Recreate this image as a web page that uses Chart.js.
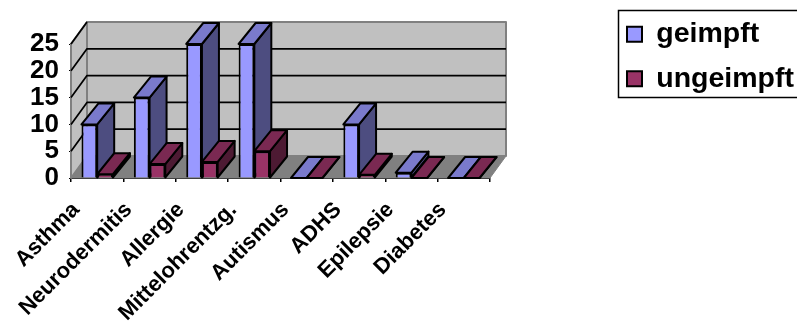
<!DOCTYPE html>
<html>
<head>
<meta charset="utf-8">
<title>Impfstatus</title>
<style>
  html, body { margin: 0; padding: 0; background: #fff; overflow: hidden; }
  canvas { display: block; }
</style>
<script src="https://cdn.jsdelivr.net/npm/chart.js@4/dist/chart.umd.min.js"></script>
</head>
<body>
<canvas id="chart" width="797" height="322"></canvas>
<script>
const categories = ['Asthma', 'Neurodermitis', 'Allergie', 'Mittelohrentzg.', 'Autismus', 'ADHS', 'Epilepsie', 'Diabetes'];
const geimpft = [10, 15, 25, 25, 0, 10, 1, 0];
const ungeimpft = [0.7, 2.6, 3, 5, 0, 0.6, 0, 0];
const yTicks = [0, 5, 10, 15, 20, 25];

const FONT = 'Arial, "Liberation Sans", sans-serif';

// offset of the back wall and depth of the bars
const wallDx = 16;
const wallDy = -22;
const barDx = 17;
const barDy = -21;

const faces = {
  '#9999FF': { top: '#7A7ACC', side: '#4D4D80' },
  '#993366': { top: '#7A2952', side: '#4D1A33' }
};

function poly(ctx, pts, fill, stroke, width) {
  ctx.beginPath();
  pts.forEach((p, i) => (i ? ctx.lineTo(p[0], p[1]) : ctx.moveTo(p[0], p[1])));
  ctx.closePath();
  if (fill) {
    ctx.fillStyle = fill;
    ctx.fill();
  }
  if (stroke) {
    ctx.strokeStyle = stroke;
    ctx.lineWidth = width;
    ctx.lineJoin = 'round';
    ctx.stroke();
  }
}

const wallsPlugin = {
  id: 'walls',
  beforeDatasetsDraw(chart) {
    const { ctx, chartArea: a, scales } = chart;
    const backL = a.left + wallDx;
    const backR = a.right + wallDx;
    const backT = a.top + wallDy;
    const backB = a.bottom + wallDy;
    ctx.save();
    poly(ctx, [[a.left, a.bottom], [backL, backB], [backL, backT], [a.left, a.top]], '#C0C0C0', '#808080', 2);
    poly(ctx, [[backL, backT], [backR, backT], [backR, backB], [backL, backB]], '#C0C0C0', '#808080', 2);
    poly(ctx, [[a.left, a.bottom], [a.right, a.bottom], [backR, backB], [backL, backB]], '#808080', '#808080', 1);
    ctx.strokeStyle = '#000';
    ctx.lineWidth = 1.75;
    yTicks.slice(1).forEach(v => {
      const y = scales.y.getPixelForValue(v);
      ctx.beginPath();
      ctx.moveTo(a.left, y);
      ctx.lineTo(backL, y + wallDy);
      if (v < 25) ctx.lineTo(backR, y + wallDy);
      ctx.stroke();
    });
    // side and top of every bar, the fronts come from Chart.js itself
    chart.data.datasets.forEach((ds, i) => {
      chart.getDatasetMeta(i).data.forEach(bar => {
        const l = bar.x - bar.width / 2;
        const r = bar.x + bar.width / 2;
        poly(ctx, [[r, bar.y], [r + barDx, bar.y + barDy], [r + barDx, bar.base + barDy], [r, bar.base]], faces[ds.backgroundColor].side, '#000', 2);
        poly(ctx, [[l, bar.y], [l + barDx, bar.y + barDy], [r + barDx, bar.y + barDy], [r, bar.y]], faces[ds.backgroundColor].top, '#000', 2);
      });
    });
    ctx.restore();
  },
  // the legend does not take space from the plot, it sits in its own box
  afterLayout(chart) {
    const legend = chart.legend;
    legend.left = 611;
    legend.right = 797;
    legend.top = 4;
    legend.bottom = 110;
  },
  beforeDraw(chart) {
    const { ctx } = chart;
    ctx.save();
    ctx.strokeStyle = '#000';
    ctx.lineWidth = 1.5;
    ctx.strokeRect(618.5, 10.5, 190, 87);
    ctx.restore();
  }
};

new Chart(document.getElementById('chart'), {
  type: 'bar',
  data: {
    labels: categories,
    datasets: [
      { label: 'geimpft', data: geimpft, backgroundColor: '#9999FF', borderColor: '#000', borderWidth: 2, clip: 4 },
      { label: 'ungeimpft', data: ungeimpft, backgroundColor: '#993366', borderColor: '#000', borderWidth: 2, clip: 4 }
    ]
  },
  options: {
    responsive: false,
    animation: false,
    categoryPercentage: 0.6,
    barPercentage: 1,
    layout: { padding: { top: 44, right: 307, left: 0, bottom: 0 } },
    plugins: {
      tooltip: { enabled: false },
      legend: {
        position: 'chartArea',
        align: 'start',
        labels: {
          boxWidth: 15,
          boxHeight: 15,
          padding: 16,
          color: '#000',
          font: { family: FONT, size: 28.5, weight: 'bold' }
        }
      }
    },
    scales: {
      x: {
        afterFit: s => { s.height = 144; },
        grid: { drawOnChartArea: false, color: '#000', lineWidth: 1.5, tickLength: 4 },
        border: { color: '#000', width: 2 },
        ticks: {
          autoSkip: false,
          minRotation: 45,
          maxRotation: 45,
          labelOffset: -21,
          padding: 15,
          color: '#000',
          font: { family: FONT, size: 22, weight: 'bold' }
        }
      },
      y: {
        min: 0,
        max: 25,
        afterFit: s => { s.width = 71; },
        grid: { drawOnChartArea: false, color: '#000', lineWidth: 1, tickLength: 2 },
        border: { color: '#000', width: 2 },
        afterBuildTicks: s => { s.ticks = yTicks.map(v => ({ value: v })); },
        ticks: {
          autoSkip: false,
          padding: 10,
          color: '#000',
          font: { family: FONT, size: 26, weight: 'bold' }
        }
      }
    }
  },
  plugins: [wallsPlugin]
});
</script>
</body>
</html>
